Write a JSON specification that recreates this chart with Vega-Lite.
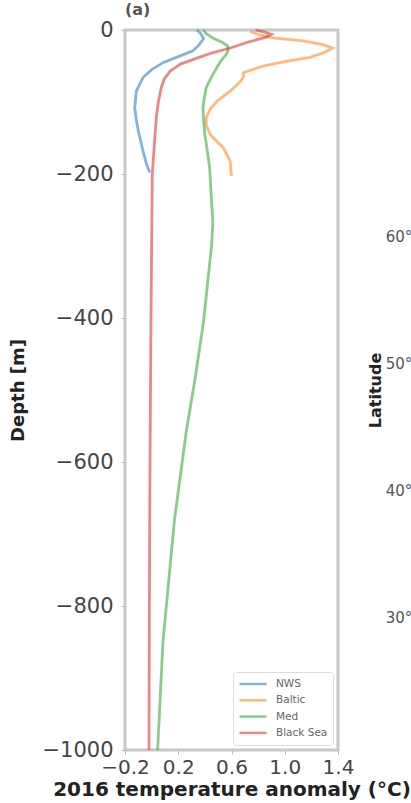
{
  "$schema": "https://vega.github.io/schema/vega-lite/v6.json",
  "background": "white",
  "padding": {"left": 8, "top": 0, "right": 0, "bottom": 0},
  "bounds": "flush",
  "spacing": 93,
  "resolve": {"legend": {"color": "independent"}},
  "config": {
    "font": "DejaVu Sans",
    "view": {"stroke": "#c8c8c8", "strokeWidth": 3},
    "axis": {"labelFont": "DejaVu Sans", "titleFont": "DejaVu Sans", "domain": false, "grid": false, "tickColor": "#bbbbbb", "tickSize": 4, "labelColor": "#444444", "titleColor": "#222222"}
  },
  "datasets": {
    "profiles": [
      {"region": "NWS", "depth": 0, "anomaly": 0.34},
      {"region": "NWS", "depth": -5, "anomaly": 0.37},
      {"region": "NWS", "depth": -12, "anomaly": 0.39},
      {"region": "NWS", "depth": -20, "anomaly": 0.36},
      {"region": "NWS", "depth": -29, "anomaly": 0.31},
      {"region": "NWS", "depth": -37, "anomaly": 0.2},
      {"region": "NWS", "depth": -45, "anomaly": 0.09},
      {"region": "NWS", "depth": -55, "anomaly": 0.0},
      {"region": "NWS", "depth": -66, "anomaly": -0.065},
      {"region": "NWS", "depth": -85, "anomaly": -0.115},
      {"region": "NWS", "depth": -108, "anomaly": -0.127},
      {"region": "NWS", "depth": -125, "anomaly": -0.115},
      {"region": "NWS", "depth": -140, "anomaly": -0.1},
      {"region": "NWS", "depth": -168, "anomaly": -0.065},
      {"region": "NWS", "depth": -185, "anomaly": -0.04},
      {"region": "NWS", "depth": -198, "anomaly": -0.014},
      {"region": "Baltic", "depth": -2, "anomaly": 0.74},
      {"region": "Baltic", "depth": -6, "anomaly": 0.8},
      {"region": "Baltic", "depth": -11, "anomaly": 0.91},
      {"region": "Baltic", "depth": -15, "anomaly": 1.14},
      {"region": "Baltic", "depth": -20, "anomaly": 1.28},
      {"region": "Baltic", "depth": -25, "anomaly": 1.36},
      {"region": "Baltic", "depth": -31, "anomaly": 1.3},
      {"region": "Baltic", "depth": -38, "anomaly": 1.19},
      {"region": "Baltic", "depth": -44, "anomaly": 1.0},
      {"region": "Baltic", "depth": -50, "anomaly": 0.84},
      {"region": "Baltic", "depth": -59, "anomaly": 0.69},
      {"region": "Baltic", "depth": -65, "anomaly": 0.69},
      {"region": "Baltic", "depth": -71, "anomaly": 0.67},
      {"region": "Baltic", "depth": -78, "anomaly": 0.63},
      {"region": "Baltic", "depth": -85, "anomaly": 0.59},
      {"region": "Baltic", "depth": -99, "anomaly": 0.49},
      {"region": "Baltic", "depth": -110, "anomaly": 0.44},
      {"region": "Baltic", "depth": -122, "anomaly": 0.41},
      {"region": "Baltic", "depth": -132, "anomaly": 0.41},
      {"region": "Baltic", "depth": -145, "anomaly": 0.44},
      {"region": "Baltic", "depth": -164, "anomaly": 0.54},
      {"region": "Baltic", "depth": -182, "anomaly": 0.59},
      {"region": "Baltic", "depth": -203, "anomaly": 0.6},
      {"region": "Med", "depth": 0, "anomaly": 0.39},
      {"region": "Med", "depth": -5, "anomaly": 0.41},
      {"region": "Med", "depth": -11, "anomaly": 0.46},
      {"region": "Med", "depth": -17, "anomaly": 0.53},
      {"region": "Med", "depth": -22, "anomaly": 0.57},
      {"region": "Med", "depth": -28, "anomaly": 0.575},
      {"region": "Med", "depth": -34, "anomaly": 0.56},
      {"region": "Med", "depth": -43, "anomaly": 0.52},
      {"region": "Med", "depth": -52, "anomaly": 0.49},
      {"region": "Med", "depth": -65, "anomaly": 0.45},
      {"region": "Med", "depth": -80, "anomaly": 0.41},
      {"region": "Med", "depth": -95, "anomaly": 0.395},
      {"region": "Med", "depth": -108, "anomaly": 0.386},
      {"region": "Med", "depth": -125, "anomaly": 0.39},
      {"region": "Med", "depth": -145, "anomaly": 0.4},
      {"region": "Med", "depth": -170, "anomaly": 0.42},
      {"region": "Med", "depth": -192, "anomaly": 0.436},
      {"region": "Med", "depth": -238, "anomaly": 0.45},
      {"region": "Med", "depth": -266, "anomaly": 0.46},
      {"region": "Med", "depth": -300, "anomaly": 0.45},
      {"region": "Med", "depth": -405, "anomaly": 0.39},
      {"region": "Med", "depth": -480, "anomaly": 0.33},
      {"region": "Med", "depth": -558, "anomaly": 0.26},
      {"region": "Med", "depth": -683, "anomaly": 0.17},
      {"region": "Med", "depth": -850, "anomaly": 0.085},
      {"region": "Med", "depth": -1000, "anomaly": 0.045},
      {"region": "Black Sea", "depth": 0, "anomaly": 0.78},
      {"region": "Black Sea", "depth": -3, "anomaly": 0.85},
      {"region": "Black Sea", "depth": -6, "anomaly": 0.9},
      {"region": "Black Sea", "depth": -10, "anomaly": 0.86},
      {"region": "Black Sea", "depth": -17, "anomaly": 0.72},
      {"region": "Black Sea", "depth": -25, "anomaly": 0.59},
      {"region": "Black Sea", "depth": -32, "anomaly": 0.45},
      {"region": "Black Sea", "depth": -39, "anomaly": 0.34},
      {"region": "Black Sea", "depth": -47, "anomaly": 0.22},
      {"region": "Black Sea", "depth": -57, "anomaly": 0.14},
      {"region": "Black Sea", "depth": -68, "anomaly": 0.095},
      {"region": "Black Sea", "depth": -80, "anomaly": 0.073},
      {"region": "Black Sea", "depth": -100, "anomaly": 0.05},
      {"region": "Black Sea", "depth": -122, "anomaly": 0.035},
      {"region": "Black Sea", "depth": -160, "anomaly": 0.02},
      {"region": "Black Sea", "depth": -200, "anomaly": 0.005},
      {"region": "Black Sea", "depth": -400, "anomaly": -0.005},
      {"region": "Black Sea", "depth": -600, "anomaly": -0.012},
      {"region": "Black Sea", "depth": -800, "anomaly": -0.017},
      {"region": "Black Sea", "depth": -1000, "anomaly": -0.02}
    ],
    "lats": [{"lat": 30}, {"lat": 60}]
  },
  "hconcat": [
    {
      "width": 213,
      "height": 720,
      "title": {"text": "(a)", "anchor": "start", "frame": "group", "fontSize": 16, "fontWeight": "bold", "color": "#555555", "offset": 1, "font": "DejaVu Sans"},
      "data": {"name": "profiles"},
      "mark": {"type": "line", "strokeWidth": 2.8, "opacity": 0.55},
      "encoding": {
        "x": {"field": "anomaly", "type": "quantitative", "scale": {"domain": [-0.2, 1.4], "nice": false, "zero": false},
          "axis": {"values": [-0.2, 0.2, 0.6, 1.0, 1.4], "format": ".1f", "labelFontSize": 20, "labelPadding": 3, "labelFlush": false, "labelOverlap": false,
            "title": "2016 temperature anomaly (°C)", "titleFontSize": 20, "titleFontWeight": "bold", "titlePadding": 2}},
        "y": {"field": "depth", "type": "quantitative", "scale": {"domain": [-1000, 0], "nice": false},
          "axis": {"values": [0, -200, -400, -600, -800, -1000], "format": "d", "labelFontSize": 21, "labelPadding": 8, "labelOverlap": false,
            "title": "Depth [m]", "titleFontSize": 18, "titleFontWeight": "bold", "titlePadding": 14}},
        "color": {"field": "region", "type": "nominal",
          "scale": {"domain": ["NWS", "Baltic", "Med", "Black Sea"], "range": ["#1f77b4", "#ff7f0e", "#2ca02c", "#d62728"]},
          "legend": {"title": null, "orient": "bottom-right", "offset": 5, "symbolType": "stroke", "symbolSize": 729, "symbolStrokeWidth": 2.5, "symbolOpacity": 0.55,
            "labelFontSize": 10.5, "labelColor": "#666666", "labelOffset": 8, "clipHeight": 14, "rowPadding": 2.3, "padding": 5,
            "fillColor": "white", "strokeColor": "#dddddd", "cornerRadius": 3}},
        "order": {"field": "depth", "sort": "descending"}
      }
    },
    {
      "width": 200,
      "height": 720,
      "data": {"name": "lats"},
      "mark": {"type": "point", "opacity": 0},
      "encoding": {
        "y": {"field": "lat", "type": "quantitative", "scale": {"domain": [19.6, 76.3], "nice": false, "zero": false},
          "axis": {"values": [30, 40, 50, 60], "labelExpr": "datum.value + '°N'", "labelFontSize": 15, "labelColor": "#555555", "labelPadding": 4,
            "title": "Latitude", "titleFontSize": 16, "titleFontWeight": "bold", "titlePadding": 2}}
      }
    }
  ]
}
